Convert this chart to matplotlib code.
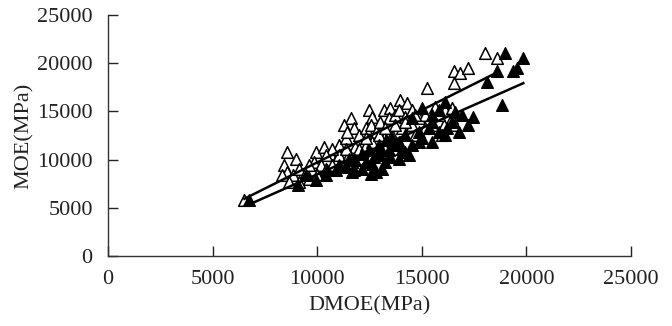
import matplotlib
matplotlib.use("Agg")
import matplotlib.pyplot as plt
import numpy as np

# Open-triangle series (DMOE, MOE) in MPa
open_x = [6520, 8580, 8980, 8430, 8580, 8820, 8340, 8660, 9140, 9460, 9930, 10330, 9850, 9620,
          10160, 10640, 10880, 11040, 11360, 11600, 11280, 11760, 11440, 11990, 11830, 12310,
          12470, 12630, 12550, 12790, 13020, 13180, 13500, 13430, 13740, 13980, 14290, 13900,
          14220, 14530, 13180, 13580, 14060, 14530, 14850, 15250, 15640, 15170, 15490, 16040,
          16440, 15960, 16520, 16830, 17230, 16520, 18030, 18580, 9140, 9620, 10010, 10410,
          10730, 11200, 11040, 11520, 11990, 12310, 12630, 12310, 12950, 13260, 13740, 14220,
          14690, 15170, 14690, 15800, 16120, 16440, 16600, 13740, 12630, 13260, 11680, 11360,
          10730, 10410]
open_y = [5760, 10800, 10100, 9410, 8720, 8370, 8370, 7680, 9070, 8720, 10800, 11320, 9760, 9410,
          9410, 10450, 9930, 11490, 12190, 14270, 13580, 13230, 12890, 12540, 11320, 13230,
          15140, 14450, 13580, 12890, 13930, 15140, 15320, 14270, 14620, 16180, 15840, 15140,
          14450, 15140, 12190, 12540, 13230, 13580, 14270, 17400, 15490, 14620, 13580, 13580,
          14270, 12540, 19140, 18960, 19490, 17920, 21050, 20530, 7680, 8020, 8370, 9070,
          9410, 9760, 10450, 10630, 11150, 11490, 11840, 12190, 12540, 13230, 13580, 13930,
          12540, 13230, 14620, 14620, 15140, 15320, 13580, 11150, 10450, 11150, 9760, 11150,
          11150, 10450]

# Filled-triangle series (DMOE, MOE) in MPa
fill_x = [6760, 9060, 9930, 9460, 10490, 11040, 11760, 11680, 12150, 12550, 12790, 12630, 12310,
          11830, 11520, 12950, 13500, 13900, 14380, 13430, 14060, 14530, 14850, 13900, 14220,
          13580, 12950, 12470, 12150, 14850, 15330, 15490, 15010, 15800, 16120, 16200, 16760,
          17230, 17470, 16920, 16600, 16120, 15800, 15490, 15010, 14530, 15490, 16440, 18110,
          18580, 18980, 19380, 19540, 19850, 18820, 10880, 10410, 11360, 13260, 13100,
          13000, 13700, 14200, 12700, 13300]
fill_y = [5760, 7330, 7850, 8370, 8890, 9410, 8890, 8720, 9070, 8540, 8720, 9590, 9760,
          9930, 10100, 10450, 10280, 10100, 10450, 10970, 11150, 11490, 11840, 11840, 12540,
          12190, 11490, 10970, 10630, 12890, 13230, 11840, 12190, 12890, 12540, 13230, 12890,
          13580, 14450, 14620, 14970, 16010, 15140, 14620, 15320, 14270, 13930, 13930, 18100,
          19140, 21050, 19140, 19490, 20530, 15660, 8890, 8370, 9240, 9760, 9070,
          11000, 11500, 10800, 10300, 12000]

# Regression lines: (slope, intercept)
open_fit = (1.085, -1140.0)
fill_fit = (0.960, -1130.0)

x_ticks = [0, 5000, 10000, 15000, 20000, 25000]
y_ticks = [0, 5000, 10000, 15000, 20000, 25000]

plt.rcParams['font.family'] = ['Liberation Serif', 'DejaVu Serif']

fig = plt.figure(figsize=(6.72, 3.26), dpi=100)
ax = fig.add_axes([108/672, 1-256/326, (631-108)/672, (256-15)/326])

ax.scatter(open_x, open_y, marker='^', s=70, facecolors='white', edgecolors='black',
           linewidths=1.1, zorder=3)
ax.scatter(fill_x, fill_y, marker='^', s=70, facecolors='black', edgecolors='black',
           linewidths=1.0, zorder=3)

for xs, fit in ((open_x, open_fit), (fill_x, fill_fit)):
    lx = np.array([min(xs), max(xs)])
    ax.plot(lx, fit[0]*lx + fit[1], color='black', lw=1.8, zorder=4)

ax.set_xlim(0, 25000)
ax.set_ylim(0, 25000)
ax.set_xticks(x_ticks)
ax.set_yticks(y_ticks)
ax.tick_params(direction='in', length=7, width=1, labelsize=16, colors='#222222')
ax.tick_params(axis='x', pad=10)
ax.tick_params(axis='y', pad=11)
for s in ('top', 'right'):
    ax.spines[s].set_visible(False)
for s in ('left', 'bottom'):
    ax.spines[s].set_linewidth(1.0)
    ax.spines[s].set_color('#333333')

ax.set_xlabel('DMOE(MPa)', fontsize=16, color='#222222', labelpad=5)
ax.set_ylabel('MOE(MPa)', fontsize=16, color='#222222', labelpad=2)

fig.savefig('out.png', dpi=100, facecolor='white')
